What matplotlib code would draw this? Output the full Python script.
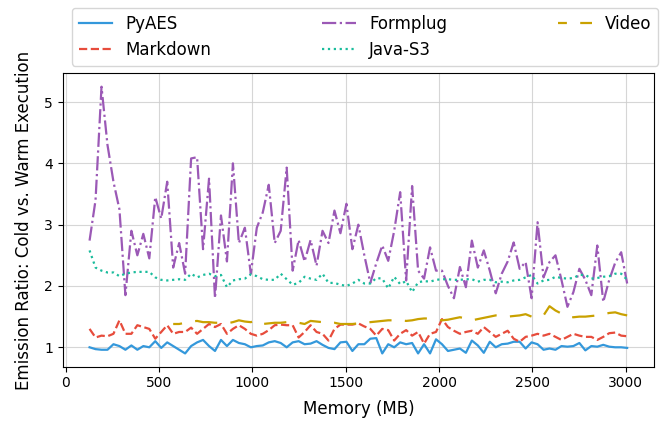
import numpy as np
import matplotlib
matplotlib.use("Agg")
import matplotlib.pyplot as plt

# memory settings (MB)
memory = np.arange(128, 3009, 32)

pyaes = [
    1.00, 0.97, 0.96, 0.96, 1.05, 1.02, 0.96, 1.03, 0.96, 1.02,
    1.00, 1.10, 0.99, 1.08, 1.02, 0.96, 0.90, 1.02, 1.08, 1.12,
    1.02, 0.94, 1.12, 1.02, 1.12, 1.07, 1.05, 1.00, 1.02, 1.03,
    1.08, 1.10, 1.07, 1.00, 1.08, 1.10, 1.05, 1.06, 1.10, 1.04,
    0.99, 0.97, 1.08, 1.09, 0.94, 1.05, 1.05, 1.14, 1.15, 0.90,
    1.05, 1.00, 1.08, 1.05, 1.07, 0.90, 1.05, 0.90, 1.13, 1.05,
    0.94, 0.96, 0.98, 0.91, 1.11, 1.03, 0.91, 1.09, 1.00, 1.05,
    1.06, 1.09, 1.09, 0.98, 1.08, 1.05, 0.96, 0.98, 0.96, 1.02,
    1.01, 1.02, 1.07, 0.95, 1.02, 1.01, 1.04, 1.01, 1.00, 1.00,
    0.99,
]

markdown = [
    1.30, 1.16, 1.19, 1.18, 1.22, 1.44, 1.22, 1.22, 1.36, 1.33,
    1.30, 1.14, 1.25, 1.36, 1.22, 1.25, 1.25, 1.32, 1.22, 1.30,
    1.38, 1.33, 1.38, 1.22, 1.30, 1.36, 1.30, 1.22, 1.19, 1.22,
    1.28, 1.36, 1.37, 1.36, 1.36, 1.16, 1.25, 1.36, 1.25, 1.22,
    1.11, 1.30, 1.37, 1.37, 1.37, 1.39, 1.34, 1.30, 1.19, 1.30,
    1.28, 1.11, 1.22, 1.28, 1.19, 1.25, 1.06, 1.22, 1.25, 1.46,
    1.33, 1.27, 1.22, 1.25, 1.27, 1.22, 1.33, 1.25, 1.17, 1.22,
    1.27, 1.14, 1.09, 1.17, 1.19, 1.22, 1.19, 1.22, 1.17, 1.12,
    1.17, 1.22, 1.19, 1.17, 1.17, 1.12, 1.17, 1.23, 1.24, 1.19,
    1.18,
]

formplug = [
    2.74, 3.40, 5.25, 4.30, 3.70, 3.25, 1.85, 2.90, 2.50, 2.85,
    2.45, 3.45, 3.10, 3.70, 2.30, 2.70, 2.20, 4.08, 4.10, 2.60,
    3.75, 1.80, 3.15, 2.40, 4.00, 2.70, 2.95, 2.20, 2.95, 3.20,
    3.65, 2.70, 2.90, 3.93, 2.25, 2.75, 2.40, 2.75, 2.33, 2.90,
    2.70, 3.23, 2.86, 3.34, 2.60, 3.00, 2.50, 2.05, 2.37, 2.66,
    2.41, 2.90, 3.53, 2.09, 3.63, 2.25, 2.12, 2.63, 2.25, 2.25,
    2.00, 1.80, 2.31, 1.98, 2.74, 2.30, 2.58, 2.25, 1.88, 2.20,
    2.40, 2.71, 2.28, 2.39, 1.80, 3.04, 2.14, 2.39, 2.50, 2.10,
    1.66, 1.90, 2.28, 2.10, 1.85, 2.66, 1.74, 2.10, 2.38, 2.55,
    2.04,
]

java_s3 = [
    2.58, 2.30, 2.25, 2.22, 2.22, 2.16, 2.20, 2.22, 2.23, 2.23,
    2.23, 2.14, 2.10, 2.09, 2.10, 2.11, 2.10, 2.20, 2.14, 2.18,
    2.20, 2.16, 2.18, 1.98, 2.09, 2.11, 2.12, 2.19, 2.16, 2.11,
    2.10, 2.10, 2.20, 2.11, 2.02, 2.05, 2.15, 2.12, 2.10, 2.20,
    2.05, 2.05, 2.02, 2.00, 2.04, 2.10, 2.04, 2.04, 2.13, 2.12,
    1.96, 2.15, 2.03, 2.08, 1.90, 2.06, 2.08, 2.07, 2.10, 2.11,
    2.11, 2.10, 2.10, 2.11, 2.11, 2.07, 2.10, 2.10, 2.06, 2.07,
    2.06, 2.09, 2.10, 2.14, 2.18, 2.04, 2.09, 2.10, 2.15, 2.13,
    2.12, 2.13, 2.18, 2.18, 2.12, 2.13, 2.15, 2.16, 2.20, 2.20,
    2.10,
]

# Video has no measurements below 576 MB
video = [np.nan] * 14 + [
    1.38, 1.38, 1.40, 1.42, 1.43, 1.41, 1.41, 1.40, 1.40, 1.39,
    1.41, 1.44, 1.42, 1.41, 1.44, 1.38,
    1.39, 1.40, 1.40, 1.41, 1.41, 1.40, 1.38, 1.43, 1.42, 1.41,
    1.39, 1.40, 1.38, 1.38, 1.38, 1.39, 1.40, 1.41, 1.42, 1.43,
    1.44, 1.44, 1.44, 1.43, 1.44, 1.46, 1.47, 1.47, 1.45, 1.44,
    1.45, 1.47, 1.49, 1.47, 1.44, 1.46, 1.48, 1.50, 1.52, 1.51,
    1.50, 1.51, 1.52, 1.54, 1.50, 1.49, 1.52, 1.67, 1.60, 1.55,
    1.50, 1.49, 1.50, 1.50, 1.51, 1.52, 1.54, 1.56, 1.57, 1.54,
    1.52,
]

fig = plt.figure(figsize=(6.64, 4.24), dpi=100)
ax = fig.add_axes([0.0944, 0.135, 0.8906, 0.692])

lw = 1.6
ax.plot(memory, pyaes, color='#3498db', lw=lw, linestyle='-', label='PyAES')
ax.plot(memory, markdown, color='#e74c3c', lw=lw, linestyle='--', label='Markdown')
ax.plot(memory, formplug, color='#9b59b6', lw=lw, linestyle='-.', label='Formplug')
ax.plot(memory, java_s3, color='#1abc9c', lw=lw, linestyle=':', label='Java-S3')
ax.plot(memory, video, color='#c9a100', lw=lw, linestyle=(6, (10, 6)), label='Video')

ax.set_xlabel('Memory (MB)', fontsize=12, labelpad=7)
ax.set_ylabel('Emission Ratio: Cold vs. Warm Execution', fontsize=12, labelpad=8)
ax.tick_params(labelsize=10)
ax.set_xticks([0, 500, 1000, 1500, 2000, 2500, 3000])
ax.set_yticks([1, 2, 3, 4, 5])
ax.grid(True, color='#cccccc', lw=0.8, alpha=0.8)

fig.legend(loc='upper left', ncol=3, mode='expand', fontsize=12,
           bbox_to_anchor=(72 / 664, 0, 586 / 664, 1 - 8 / 424),
           borderaxespad=0)

fig.savefig('out.png', dpi=100)
